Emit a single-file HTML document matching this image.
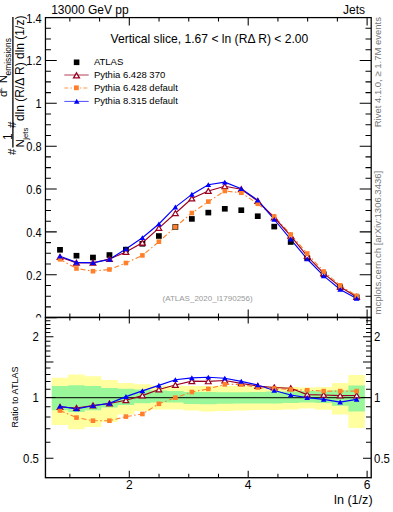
<!DOCTYPE html><html><head><meta charset="utf-8"><style>html,body{margin:0;padding:0;background:#fff;width:393px;height:512px;overflow:hidden}svg{display:block}text{font-family:"Liberation Sans",sans-serif}</style></head><body>
<svg width="393" height="512" viewBox="0 0 393 512">
<path d="M51.76,377.8 L68.24,377.8 L68.24,374.5 L84.72,374.5 L84.72,376.3 L101.2,376.3 L101.2,380.1 L117.68,380.1 L117.68,383 L134.16,383 L134.16,384.3 L150.64,384.3 L150.64,385.6 L167.12,385.6 L167.12,385.8 L183.6,385.8 L183.6,386 L200.08,386 L200.08,386 L216.56,386 L216.56,386 L233.04,386 L233.04,386 L249.52,386 L249.52,386.3 L266,386.3 L266,386.5 L282.48,386.5 L282.48,387 L298.96,387 L298.96,387.5 L315.44,387.5 L315.44,387.1 L331.92,387.1 L331.92,382.9 L348.4,382.9 L348.4,375 L364.88,375 L364.88,428 L348.4,428 L348.4,414.6 L331.92,414.6 L331.92,409.8 L315.44,409.8 L315.44,408.6 L298.96,408.6 L298.96,409.5 L282.48,409.5 L282.48,410 L266,410 L266,410 L249.52,410 L249.52,410.5 L233.04,410.5 L233.04,411 L216.56,411 L216.56,411.5 L200.08,411.5 L200.08,410.5 L183.6,410.5 L183.6,409.6 L167.12,409.6 L167.12,409.6 L150.64,409.6 L150.64,411 L134.16,411 L134.16,414.5 L117.68,414.5 L117.68,421.9 L101.2,421.9 L101.2,427.1 L84.72,427.1 L84.72,429.3 L68.24,429.3 L68.24,424.9 L51.76,424.9 Z" fill="#ffffa0"/>
<path d="M51.76,386.1 L68.24,386.1 L68.24,385.2 L84.72,385.2 L84.72,386.1 L101.2,386.1 L101.2,387.9 L117.68,387.9 L117.68,388.7 L134.16,388.7 L134.16,389.5 L150.64,389.5 L150.64,390.5 L167.12,390.5 L167.12,391.1 L183.6,391.1 L183.6,392 L200.08,392 L200.08,392 L216.56,392 L216.56,392.3 L233.04,392.3 L233.04,392.3 L249.52,392.3 L249.52,392 L266,392 L266,391.5 L282.48,391.5 L282.48,391.5 L298.96,391.5 L298.96,391.1 L315.44,391.1 L315.44,391.5 L331.92,391.5 L331.92,390.2 L348.4,390.2 L348.4,385.4 L364.88,385.4 L364.88,411.6 L348.4,411.6 L348.4,405.8 L331.92,405.8 L331.92,403 L315.44,403 L315.44,402.5 L298.96,402.5 L298.96,403 L282.48,403 L282.48,403.5 L266,403.5 L266,403.5 L249.52,403.5 L249.52,403.5 L233.04,403.5 L233.04,403.8 L216.56,403.8 L216.56,404.2 L200.08,404.2 L200.08,403.9 L183.6,403.9 L183.6,402.5 L167.12,402.5 L167.12,402.5 L150.64,402.5 L150.64,403.2 L134.16,403.2 L134.16,405 L117.68,405 L117.68,407.6 L101.2,407.6 L101.2,410.3 L84.72,410.3 L84.72,412.1 L68.24,412.1 L68.24,410.3 L51.76,410.3 Z" fill="#99f799"/>
<line x1="45.75" y1="397.6" x2="371" y2="397.6" stroke="#000" stroke-opacity="0.8" stroke-width="1.3"/>
<g stroke="#000" fill="none">
<rect x="45.45" y="17.6" width="325.75" height="299.85" stroke-width="1.25"/>
<rect x="45.45" y="317.45" width="325.75" height="160.25" stroke-width="1.35"/>
</g>
<path d="M45.45,317.6h11.3 M371,317.6h-11.3 M45.45,306.89h5.5 M371,306.89h-5.5 M45.45,296.17h5.5 M371,296.17h-5.5 M45.45,285.46h5.5 M371,285.46h-5.5 M45.45,274.74h11.3 M371,274.74h-11.3 M45.45,264.03h5.5 M371,264.03h-5.5 M45.45,253.31h5.5 M371,253.31h-5.5 M45.45,242.6h5.5 M371,242.6h-5.5 M45.45,231.88h11.3 M371,231.88h-11.3 M45.45,221.17h5.5 M371,221.17h-5.5 M45.45,210.46h5.5 M371,210.46h-5.5 M45.45,199.74h5.5 M371,199.74h-5.5 M45.45,189.03h11.3 M371,189.03h-11.3 M45.45,178.31h5.5 M371,178.31h-5.5 M45.45,167.6h5.5 M371,167.6h-5.5 M45.45,156.88h5.5 M371,156.88h-5.5 M45.45,146.17h11.3 M371,146.17h-11.3 M45.45,135.45h5.5 M371,135.45h-5.5 M45.45,124.74h5.5 M371,124.74h-5.5 M45.45,114.02h5.5 M371,114.02h-5.5 M45.45,103.31h11.3 M371,103.31h-11.3 M45.45,92.6h5.5 M371,92.6h-5.5 M45.45,81.88h5.5 M371,81.88h-5.5 M45.45,71.17h5.5 M371,71.17h-5.5 M45.45,60.45h11.3 M371,60.45h-11.3 M45.45,49.74h5.5 M371,49.74h-5.5 M45.45,39.02h5.5 M371,39.02h-5.5 M45.45,28.31h5.5 M371,28.31h-5.5 M45.45,17.59h11.3 M371,17.59h-11.3 M69.85,317.5v-4 M69.85,17.5v4 M69.85,317.5v3 M69.85,477.7v-4 M99.58,317.5v-4 M99.58,17.5v4 M99.58,317.5v3 M99.58,477.7v-4 M129.3,317.5v-8 M129.3,17.5v8 M129.3,317.5v6 M129.3,477.7v-7 M159.03,317.5v-4 M159.03,17.5v4 M159.03,317.5v3 M159.03,477.7v-4 M188.75,317.5v-4 M188.75,17.5v4 M188.75,317.5v3 M188.75,477.7v-4 M218.48,317.5v-4 M218.48,17.5v4 M218.48,317.5v3 M218.48,477.7v-4 M248.2,317.5v-8 M248.2,17.5v8 M248.2,317.5v6 M248.2,477.7v-7 M277.93,317.5v-4 M277.93,17.5v4 M277.93,317.5v3 M277.93,477.7v-4 M307.65,317.5v-4 M307.65,17.5v4 M307.65,317.5v3 M307.65,477.7v-4 M337.38,317.5v-4 M337.38,17.5v4 M337.38,317.5v3 M337.38,477.7v-4 M367.1,317.5v-8 M367.1,17.5v8 M367.1,317.5v6 M367.1,477.7v-7 M45.45,458.2h8 M371,458.2h-8 M45.45,442.23h5 M371,442.23h-5 M45.45,428.73h5 M371,428.73h-5 M45.45,417.04h5 M371,417.04h-5 M45.45,406.73h5 M371,406.73h-5 M45.45,397.5h10 M371,397.5h-10 M45.45,389.15h5 M371,389.15h-5 M45.45,381.53h5 M371,381.53h-5 M45.45,374.52h5 M371,374.52h-5 M45.45,368.03h5 M371,368.03h-5 M45.45,361.99h8 M371,361.99h-8 M45.45,356.34h5 M371,356.34h-5 M45.45,351.03h5 M371,351.03h-5 M45.45,346.03h5 M371,346.03h-5 M45.45,341.29h5 M371,341.29h-5 M45.45,336.8h8 M371,336.8h-8 M45.45,332.53h5 M371,332.53h-5 M45.45,328.45h5 M371,328.45h-5 M45.45,324.56h5 M371,324.56h-5 M45.45,320.83h5 M371,320.83h-5" stroke="#000" stroke-width="1.05" fill="none"/>
<path d="M60,259.3 L76.48,268.5 L92.96,271.2 L109.44,269.5 L125.92,263 L142.4,255.4 L158.88,241.7 L175.36,226.9 L191.84,213 L208.32,201.6 L224.8,191 L241.28,192.8 L257.76,203.8 L274.24,216.5 L290.72,234.5 L307.2,253.5 L323.68,271.5 L340.16,285.3 L356.64,295.8" stroke="#ff7f2a" stroke-width="1.1" fill="none" stroke-dasharray="5,2.5,1.5,2.5"/>
<path d="M60,257 L76.48,262.8 L92.96,262.7 L109.44,259 L125.92,252 L142.4,242.8 L158.88,228.1 L175.36,213.2 L191.84,198.5 L208.32,191 L224.8,186.3 L241.28,189.3 L257.76,201 L274.24,217.5 L290.72,235.8 L307.2,256.1 L323.68,273.4 L340.16,286.8 L356.64,297.1" stroke="#990022" stroke-width="1.15" fill="none"/>
<path d="M60,256.3 L76.48,262.4 L92.96,262.8 L109.44,259.4 L125.92,248.9 L142.4,237.7 L158.88,224 L175.36,207.1 L191.84,194.4 L208.32,184.7 L224.8,182.2 L241.28,188.7 L257.76,200.3 L274.24,219.5 L290.72,239.3 L307.2,259 L323.68,275.9 L340.16,289.5 L356.64,298.5" stroke="#0000ff" stroke-width="1.15" fill="none"/>
<rect x="57.1" y="247" width="5.8" height="5.6" fill="#000"/>
<rect x="73.58" y="252.9" width="5.8" height="5.6" fill="#000"/>
<rect x="90.06" y="254.7" width="5.8" height="5.6" fill="#000"/>
<rect x="106.54" y="252.2" width="5.8" height="5.6" fill="#000"/>
<rect x="123.02" y="246.8" width="5.8" height="5.6" fill="#000"/>
<rect x="139.5" y="241" width="5.8" height="5.6" fill="#000"/>
<rect x="155.98" y="233.2" width="5.8" height="5.6" fill="#000"/>
<rect x="172.46" y="224.1" width="5.8" height="5.6" fill="#000"/>
<rect x="188.94" y="216.1" width="5.8" height="5.6" fill="#000"/>
<rect x="205.42" y="209.8" width="5.8" height="5.6" fill="#000"/>
<rect x="221.9" y="206" width="5.8" height="5.6" fill="#000"/>
<rect x="238.38" y="207.4" width="5.8" height="5.6" fill="#000"/>
<rect x="254.86" y="213.4" width="5.8" height="5.6" fill="#000"/>
<rect x="271.34" y="223.8" width="5.8" height="5.6" fill="#000"/>
<rect x="287.82" y="239.2" width="5.8" height="5.6" fill="#000"/>
<rect x="304.3" y="255.3" width="5.8" height="5.6" fill="#000"/>
<rect x="320.78" y="271.4" width="5.8" height="5.6" fill="#000"/>
<rect x="337.26" y="284.4" width="5.8" height="5.6" fill="#000"/>
<rect x="353.74" y="294.5" width="5.8" height="5.6" fill="#000"/>
<path d="M60,254.39 L62.89,259.34 L57.11,259.34 Z" fill="#fff" stroke="#990022" stroke-width="1.2"/>
<path d="M76.48,260.19 L79.37,265.14 L73.59,265.14 Z" fill="#fff" stroke="#990022" stroke-width="1.2"/>
<path d="M92.96,260.09 L95.85,265.04 L90.07,265.04 Z" fill="#fff" stroke="#990022" stroke-width="1.2"/>
<path d="M109.44,256.39 L112.33,261.34 L106.55,261.34 Z" fill="#fff" stroke="#990022" stroke-width="1.2"/>
<path d="M125.92,249.39 L128.81,254.34 L123.03,254.34 Z" fill="#fff" stroke="#990022" stroke-width="1.2"/>
<path d="M142.4,240.19 L145.29,245.14 L139.51,245.14 Z" fill="#fff" stroke="#990022" stroke-width="1.2"/>
<path d="M158.88,225.49 L161.77,230.44 L155.99,230.44 Z" fill="#fff" stroke="#990022" stroke-width="1.2"/>
<path d="M175.36,210.59 L178.25,215.54 L172.47,215.54 Z" fill="#fff" stroke="#990022" stroke-width="1.2"/>
<path d="M191.84,195.89 L194.73,200.84 L188.95,200.84 Z" fill="#fff" stroke="#990022" stroke-width="1.2"/>
<path d="M208.32,188.39 L211.21,193.34 L205.43,193.34 Z" fill="#fff" stroke="#990022" stroke-width="1.2"/>
<path d="M224.8,183.69 L227.69,188.64 L221.91,188.64 Z" fill="#fff" stroke="#990022" stroke-width="1.2"/>
<path d="M241.28,186.69 L244.17,191.64 L238.39,191.64 Z" fill="#fff" stroke="#990022" stroke-width="1.2"/>
<path d="M257.76,198.39 L260.65,203.34 L254.87,203.34 Z" fill="#fff" stroke="#990022" stroke-width="1.2"/>
<path d="M274.24,214.89 L277.13,219.84 L271.35,219.84 Z" fill="#fff" stroke="#990022" stroke-width="1.2"/>
<path d="M290.72,233.19 L293.61,238.14 L287.83,238.14 Z" fill="#fff" stroke="#990022" stroke-width="1.2"/>
<path d="M307.2,253.49 L310.09,258.44 L304.31,258.44 Z" fill="#fff" stroke="#990022" stroke-width="1.2"/>
<path d="M323.68,270.79 L326.57,275.74 L320.79,275.74 Z" fill="#fff" stroke="#990022" stroke-width="1.2"/>
<path d="M340.16,284.19 L343.05,289.14 L337.27,289.14 Z" fill="#fff" stroke="#990022" stroke-width="1.2"/>
<path d="M356.64,294.49 L359.53,299.44 L353.75,299.44 Z" fill="#fff" stroke="#990022" stroke-width="1.2"/>
<rect x="57.7" y="257" width="4.6" height="4.6" fill="#ff7f2a"/>
<rect x="74.18" y="266.2" width="4.6" height="4.6" fill="#ff7f2a"/>
<rect x="90.66" y="268.9" width="4.6" height="4.6" fill="#ff7f2a"/>
<rect x="107.14" y="267.2" width="4.6" height="4.6" fill="#ff7f2a"/>
<rect x="123.62" y="260.7" width="4.6" height="4.6" fill="#ff7f2a"/>
<rect x="140.1" y="253.1" width="4.6" height="4.6" fill="#ff7f2a"/>
<rect x="156.58" y="239.4" width="4.6" height="4.6" fill="#ff7f2a"/>
<rect x="173.06" y="224.6" width="4.6" height="4.6" fill="#ff7f2a"/>
<rect x="189.54" y="210.7" width="4.6" height="4.6" fill="#ff7f2a"/>
<rect x="206.02" y="199.3" width="4.6" height="4.6" fill="#ff7f2a"/>
<rect x="222.5" y="188.7" width="4.6" height="4.6" fill="#ff7f2a"/>
<rect x="238.98" y="190.5" width="4.6" height="4.6" fill="#ff7f2a"/>
<rect x="255.46" y="201.5" width="4.6" height="4.6" fill="#ff7f2a"/>
<rect x="271.94" y="214.2" width="4.6" height="4.6" fill="#ff7f2a"/>
<rect x="288.42" y="232.2" width="4.6" height="4.6" fill="#ff7f2a"/>
<rect x="304.9" y="251.2" width="4.6" height="4.6" fill="#ff7f2a"/>
<rect x="321.38" y="269.2" width="4.6" height="4.6" fill="#ff7f2a"/>
<rect x="337.86" y="283" width="4.6" height="4.6" fill="#ff7f2a"/>
<rect x="354.34" y="293.5" width="4.6" height="4.6" fill="#ff7f2a"/>
<path d="M60,253.74 L62.84,258.6 L57.16,258.6 Z" fill="#0000ff"/>
<path d="M76.48,259.83 L79.31,264.69 L73.65,264.69 Z" fill="#0000ff"/>
<path d="M92.96,260.24 L95.8,265.1 L90.13,265.1 Z" fill="#0000ff"/>
<path d="M109.44,256.83 L112.27,261.69 L106.61,261.69 Z" fill="#0000ff"/>
<path d="M125.92,246.34 L128.75,251.19 L123.09,251.19 Z" fill="#0000ff"/>
<path d="M142.4,235.13 L145.24,239.99 L139.56,239.99 Z" fill="#0000ff"/>
<path d="M158.88,221.44 L161.72,226.29 L156.04,226.29 Z" fill="#0000ff"/>
<path d="M175.36,204.53 L178.2,209.39 L172.53,209.39 Z" fill="#0000ff"/>
<path d="M191.84,191.84 L194.68,196.69 L189,196.69 Z" fill="#0000ff"/>
<path d="M208.32,182.13 L211.16,186.99 L205.48,186.99 Z" fill="#0000ff"/>
<path d="M224.8,179.63 L227.64,184.49 L221.97,184.49 Z" fill="#0000ff"/>
<path d="M241.28,186.13 L244.12,190.99 L238.44,190.99 Z" fill="#0000ff"/>
<path d="M257.76,197.74 L260.59,202.59 L254.92,202.59 Z" fill="#0000ff"/>
<path d="M274.24,216.94 L277.07,221.79 L271.41,221.79 Z" fill="#0000ff"/>
<path d="M290.72,236.74 L293.56,241.59 L287.89,241.59 Z" fill="#0000ff"/>
<path d="M307.2,256.44 L310.04,261.3 L304.37,261.3 Z" fill="#0000ff"/>
<path d="M323.68,273.33 L326.51,278.19 L320.85,278.19 Z" fill="#0000ff"/>
<path d="M340.16,286.94 L343,291.8 L337.33,291.8 Z" fill="#0000ff"/>
<path d="M356.64,295.94 L359.47,300.8 L353.81,300.8 Z" fill="#0000ff"/>
<path d="M60,410.5 L76.48,417.6 L92.96,420.7 L109.44,420.7 L125.92,416.6 L142.4,414 L158.88,403.8 L175.36,397.7 L191.84,392 L208.32,388.9 L224.8,384.4 L241.28,384.4 L257.76,387.5 L274.24,388.5 L290.72,389.5 L307.2,390.2 L323.68,391.1 L340.16,391.1 L356.64,391.1" stroke="#ff7f2a" stroke-width="1.1" fill="none" stroke-dasharray="5,2.5,1.5,2.5"/>
<path d="M60,407 L76.48,408 L92.96,405.5 L109.44,403.5 L125.92,400.3 L142.4,395.6 L158.88,389.5 L175.36,385 L191.84,381.2 L208.32,381.4 L224.8,380.5 L241.28,383.4 L257.76,386 L274.24,387.5 L290.72,388.2 L307.2,394.6 L323.68,395 L340.16,395.6 L356.64,395.5" stroke="#990022" stroke-width="1.15" fill="none"/>
<path d="M60,406.4 L76.48,408.9 L92.96,405.8 L109.44,403.4 L125.92,396.6 L142.4,390.9 L158.88,385.4 L175.36,379.7 L191.84,377.9 L208.32,377.3 L224.8,378.3 L241.28,381.4 L257.76,385 L274.24,390.5 L290.72,395 L307.2,397.6 L323.68,399.4 L340.16,402.1 L356.64,399.4" stroke="#0000ff" stroke-width="1.15" fill="none"/>
<path d="M60,404.39 L62.89,409.34 L57.11,409.34 Z" fill="#fff" stroke="#990022" stroke-width="1.2"/>
<path d="M76.48,405.39 L79.37,410.34 L73.59,410.34 Z" fill="#fff" stroke="#990022" stroke-width="1.2"/>
<path d="M92.96,402.89 L95.85,407.84 L90.07,407.84 Z" fill="#fff" stroke="#990022" stroke-width="1.2"/>
<path d="M109.44,400.89 L112.33,405.84 L106.55,405.84 Z" fill="#fff" stroke="#990022" stroke-width="1.2"/>
<path d="M125.92,397.69 L128.81,402.64 L123.03,402.64 Z" fill="#fff" stroke="#990022" stroke-width="1.2"/>
<path d="M142.4,392.99 L145.29,397.94 L139.51,397.94 Z" fill="#fff" stroke="#990022" stroke-width="1.2"/>
<path d="M158.88,386.89 L161.77,391.84 L155.99,391.84 Z" fill="#fff" stroke="#990022" stroke-width="1.2"/>
<path d="M175.36,382.39 L178.25,387.34 L172.47,387.34 Z" fill="#fff" stroke="#990022" stroke-width="1.2"/>
<path d="M191.84,378.59 L194.73,383.54 L188.95,383.54 Z" fill="#fff" stroke="#990022" stroke-width="1.2"/>
<path d="M208.32,378.79 L211.21,383.74 L205.43,383.74 Z" fill="#fff" stroke="#990022" stroke-width="1.2"/>
<path d="M224.8,377.89 L227.69,382.84 L221.91,382.84 Z" fill="#fff" stroke="#990022" stroke-width="1.2"/>
<path d="M241.28,380.79 L244.17,385.74 L238.39,385.74 Z" fill="#fff" stroke="#990022" stroke-width="1.2"/>
<path d="M257.76,383.39 L260.65,388.34 L254.87,388.34 Z" fill="#fff" stroke="#990022" stroke-width="1.2"/>
<path d="M274.24,384.89 L277.13,389.84 L271.35,389.84 Z" fill="#fff" stroke="#990022" stroke-width="1.2"/>
<path d="M290.72,385.59 L293.61,390.54 L287.83,390.54 Z" fill="#fff" stroke="#990022" stroke-width="1.2"/>
<path d="M307.2,391.99 L310.09,396.94 L304.31,396.94 Z" fill="#fff" stroke="#990022" stroke-width="1.2"/>
<path d="M323.68,392.39 L326.57,397.34 L320.79,397.34 Z" fill="#fff" stroke="#990022" stroke-width="1.2"/>
<path d="M340.16,392.99 L343.05,397.94 L337.27,397.94 Z" fill="#fff" stroke="#990022" stroke-width="1.2"/>
<path d="M356.64,392.89 L359.53,397.84 L353.75,397.84 Z" fill="#fff" stroke="#990022" stroke-width="1.2"/>
<rect x="57.7" y="408.2" width="4.6" height="4.6" fill="#ff7f2a"/>
<rect x="74.18" y="415.3" width="4.6" height="4.6" fill="#ff7f2a"/>
<rect x="90.66" y="418.4" width="4.6" height="4.6" fill="#ff7f2a"/>
<rect x="107.14" y="418.4" width="4.6" height="4.6" fill="#ff7f2a"/>
<rect x="123.62" y="414.3" width="4.6" height="4.6" fill="#ff7f2a"/>
<rect x="140.1" y="411.7" width="4.6" height="4.6" fill="#ff7f2a"/>
<rect x="156.58" y="401.5" width="4.6" height="4.6" fill="#ff7f2a"/>
<rect x="173.06" y="395.4" width="4.6" height="4.6" fill="#ff7f2a"/>
<rect x="189.54" y="389.7" width="4.6" height="4.6" fill="#ff7f2a"/>
<rect x="206.02" y="386.6" width="4.6" height="4.6" fill="#ff7f2a"/>
<rect x="222.5" y="382.1" width="4.6" height="4.6" fill="#ff7f2a"/>
<rect x="238.98" y="382.1" width="4.6" height="4.6" fill="#ff7f2a"/>
<rect x="255.46" y="385.2" width="4.6" height="4.6" fill="#ff7f2a"/>
<rect x="271.94" y="386.2" width="4.6" height="4.6" fill="#ff7f2a"/>
<rect x="288.42" y="387.2" width="4.6" height="4.6" fill="#ff7f2a"/>
<rect x="304.9" y="387.9" width="4.6" height="4.6" fill="#ff7f2a"/>
<rect x="321.38" y="388.8" width="4.6" height="4.6" fill="#ff7f2a"/>
<rect x="337.86" y="388.8" width="4.6" height="4.6" fill="#ff7f2a"/>
<rect x="354.34" y="388.8" width="4.6" height="4.6" fill="#ff7f2a"/>
<path d="M60,403.83 L62.84,408.69 L57.16,408.69 Z" fill="#0000ff"/>
<path d="M76.48,406.33 L79.31,411.19 L73.65,411.19 Z" fill="#0000ff"/>
<path d="M92.96,403.24 L95.8,408.1 L90.13,408.1 Z" fill="#0000ff"/>
<path d="M109.44,400.83 L112.27,405.69 L106.61,405.69 Z" fill="#0000ff"/>
<path d="M125.92,394.04 L128.75,398.9 L123.09,398.9 Z" fill="#0000ff"/>
<path d="M142.4,388.33 L145.24,393.19 L139.56,393.19 Z" fill="#0000ff"/>
<path d="M158.88,382.83 L161.72,387.69 L156.04,387.69 Z" fill="#0000ff"/>
<path d="M175.36,377.13 L178.2,382 L172.53,382 Z" fill="#0000ff"/>
<path d="M191.84,375.33 L194.68,380.19 L189,380.19 Z" fill="#0000ff"/>
<path d="M208.32,374.74 L211.16,379.6 L205.48,379.6 Z" fill="#0000ff"/>
<path d="M224.8,375.74 L227.64,380.6 L221.97,380.6 Z" fill="#0000ff"/>
<path d="M241.28,378.83 L244.12,383.69 L238.44,383.69 Z" fill="#0000ff"/>
<path d="M257.76,382.44 L260.59,387.3 L254.92,387.3 Z" fill="#0000ff"/>
<path d="M274.24,387.94 L277.07,392.8 L271.41,392.8 Z" fill="#0000ff"/>
<path d="M290.72,392.44 L293.56,397.3 L287.89,397.3 Z" fill="#0000ff"/>
<path d="M307.2,395.04 L310.04,399.9 L304.37,399.9 Z" fill="#0000ff"/>
<path d="M323.68,396.83 L326.51,401.69 L320.85,401.69 Z" fill="#0000ff"/>
<path d="M340.16,399.54 L343,404.4 L337.33,404.4 Z" fill="#0000ff"/>
<path d="M356.64,396.83 L359.47,401.69 L353.81,401.69 Z" fill="#0000ff"/>
<rect x="73.8" y="59.5" width="5.6" height="5.6" fill="#000"/>
<line x1="64.3" y1="75" x2="88.7" y2="75" stroke="#990022" stroke-width="1" stroke-opacity="0.75"/>
<path d="M76.5,72.84 L79.44,77.88 L73.56,77.88 Z" fill="#fff" stroke="#990022" stroke-width="1.3"/>
<line x1="64.3" y1="88" x2="88.7" y2="88" stroke="#ff7f2a" stroke-width="1" stroke-opacity="0.8" stroke-dasharray="4,2,1.5,2"/>
<rect x="74" y="85.4" width="4.8" height="4.8" fill="#ff7f2a"/>
<line x1="64.3" y1="101.4" x2="88.7" y2="101.4" stroke="#0000ff" stroke-width="1" stroke-opacity="0.7"/>
<path d="M76.7,98.84 L79.53,103.7 L73.87,103.7 Z" fill="#0000ff"/>
<g font-size="9.5" fill="#000">
<text x="93.9" y="65">ATLAS</text>
<text x="93.9" y="78">Pythia 6.428 370</text>
<text x="93.9" y="91">Pythia 6.428 default</text>
<text x="93.9" y="104">Pythia 8.315 default</text>
</g>
<text x="51.2" y="13.5" font-size="12" fill="#000">13000 GeV pp</text>
<text x="365" y="13.5" font-size="12" fill="#000" text-anchor="end">Jets</text>
<text x="110.6" y="43.2" font-size="12.1" fill="#000">Vertical slice, 1.67 &lt; ln (RΔ R) &lt; 2.00</text>
<text x="207.6" y="301.4" font-size="8" fill="#999" text-anchor="middle">(ATLAS_2020_I1790256)</text>
<defs><clipPath id="cm"><rect x="0" y="0" width="393" height="317.6"/></clipPath></defs>
<g font-size="12" fill="#000" text-anchor="end" clip-path="url(#cm)">
<text transform="translate(41.6,322.6) scale(0.92,1)">0</text>
<text transform="translate(41.6,279.74) scale(0.92,1)">0.2</text>
<text transform="translate(41.6,236.88) scale(0.92,1)">0.4</text>
<text transform="translate(41.6,194.03) scale(0.92,1)">0.6</text>
<text transform="translate(41.6,151.17) scale(0.92,1)">0.8</text>
<text transform="translate(41.6,108.31) scale(0.92,1)">1</text>
<text transform="translate(41.6,65.45) scale(0.92,1)">1.2</text>
<text transform="translate(41.6,22.59) scale(0.92,1)">1.4</text>
</g>
<g font-size="12" fill="#000">
<text transform="translate(38.9,341.3) scale(0.95,1)" text-anchor="end">2</text>
<text transform="translate(374.1,341.3) scale(0.95,1)">2</text>
<text transform="translate(38.9,402) scale(0.95,1)" text-anchor="end">1</text>
<text transform="translate(374.1,402) scale(0.95,1)">1</text>
<text transform="translate(38.9,462.7) scale(0.95,1)" text-anchor="end">0.5</text>
<text transform="translate(374.1,462.7) scale(0.95,1)">0.5</text>
</g>
<g font-size="12" fill="#000" text-anchor="middle">
<text x="129.3" y="489">2</text>
<text x="248.2" y="489">4</text>
<text x="367.1" y="489">6</text>
</g>
<text x="372.6" y="504" font-size="12.6" fill="#000" text-anchor="end">ln (1/z)</text>
<text transform="translate(380.6,127.3) rotate(-90)" font-size="9.5" fill="#777">Rivet 4.1.0, ≥ 1.7M events</text>
<text transform="translate(380.6,314.5) rotate(-90)" font-size="9.5" fill="#777">mcplots.cern.ch [arXiv:1306.3436]</text>
<text transform="translate(18.0,427.4) rotate(-90)" font-size="9" fill="#000">Ratio to ATLAS</text>
<g>
<line x1="12.9" y1="17" x2="12.9" y2="147.6" stroke="#000" stroke-width="1.3"/>
<text transform="translate(16.1,155) rotate(-90)" font-size="11.5" fill="#000">#</text>
<text transform="translate(16.1,128.1) rotate(-90)" font-size="11.5" fill="#000">#</text>
<text transform="translate(12.1,140.1) rotate(-90)" font-size="12" fill="#000">1</text>
<text transform="translate(24,147.6) rotate(-90)" font-size="11.5" fill="#000">N</text>
<text transform="translate(27.6,139.8) rotate(-90)" font-size="7.8" fill="#000">jets</text>
<text transform="translate(24,121) rotate(-90)" font-size="12" fill="#000">dln (R/Δ R) dln (1/z)</text>
<text transform="translate(6.9,97.1) rotate(-90)" font-size="11.5" fill="#000">d</text>
<text transform="translate(1.9,91.8) rotate(-90)" font-size="8" fill="#000">2</text>
<text transform="translate(7.0,83.2) rotate(-90)" font-size="11.5" fill="#000">N</text>
<text transform="translate(10.7,75.4) rotate(-90)" font-size="8.4" fill="#000">emissions</text>
</g>
</svg></body></html>
